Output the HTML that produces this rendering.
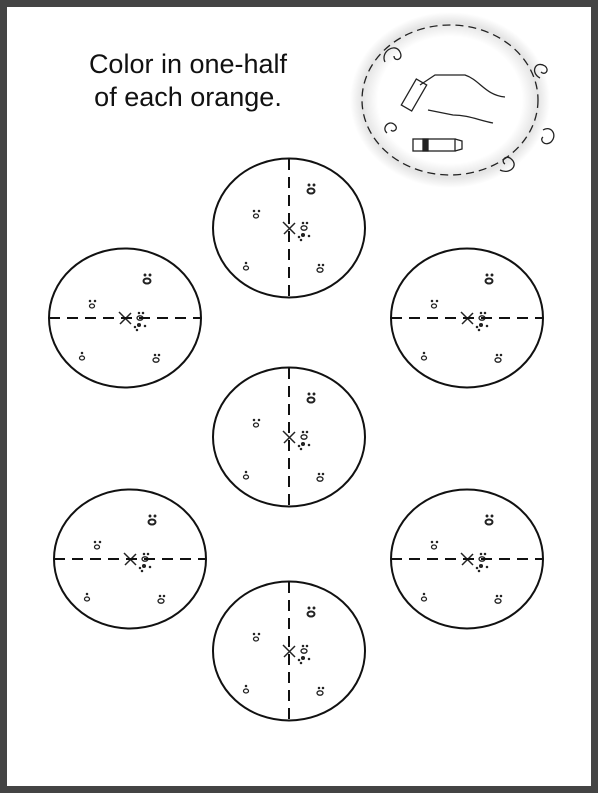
<!DOCTYPE html>
<html><head><style>
html,body{margin:0;padding:0;background:#fff}
.wrap{position:relative;width:600px;height:795px;overflow:hidden}
</style></head><body><div class="wrap">
<svg width="600" height="795" viewBox="0 0 600 795" xmlns="http://www.w3.org/2000/svg">
<defs>
<radialGradient id="glow" cx="50%" cy="50%" r="50%">
<stop offset="72%" stop-color="#fff"/><stop offset="88%" stop-color="#e4e4e4"/><stop offset="100%" stop-color="#fff"/>
</radialGradient>
<g id="dots" fill="none" stroke="#222" stroke-width="1.3">
<ellipse cx="22" cy="-37" rx="3.5" ry="2.5" stroke-width="2"/>
<circle cx="20" cy="-43" r="0.8" fill="#222"/><circle cx="25" cy="-43" r="0.8" fill="#222"/>
<ellipse cx="-33" cy="-12" rx="2.5" ry="2"/>
<circle cx="-35" cy="-17" r="0.6" fill="#222"/><circle cx="-30" cy="-17" r="0.6" fill="#222"/>
<ellipse cx="15" cy="0" rx="3" ry="2.2"/>
<circle cx="14" cy="-5" r="0.6" fill="#222"/><circle cx="18" cy="-5" r="0.6" fill="#222"/>
<circle cx="14" cy="7" r="1.4" fill="#222"/><circle cx="10" cy="9" r="0.6" fill="#222"/><circle cx="20" cy="8" r="0.6" fill="#222"/><circle cx="12" cy="12" r="0.6" fill="#222"/>
<ellipse cx="-43" cy="40" rx="2.5" ry="2"/>
<circle cx="-43" cy="35" r="0.6" fill="#222"/>
<ellipse cx="31" cy="42" rx="3" ry="2.2"/>
<circle cx="30" cy="37" r="0.6" fill="#222"/><circle cx="34" cy="37" r="0.6" fill="#222"/>
<path d="M-6,-6 L6,6 M-5,6 L6,-5" stroke-width="1.5"/>
</g>
<g id="ov">
<ellipse cx="0" cy="0" rx="76" ry="69.5" fill="none" stroke="#111" stroke-width="2"/>
<use href="#dots"/>
</g>
</defs>
<rect x="3.5" y="3.5" width="591" height="786" fill="none" stroke="#444" stroke-width="7"/>
<text x="188" y="73" font-family="Liberation Sans, sans-serif" font-size="27" text-anchor="middle" fill="#111">Color in one-half</text>
<text x="188" y="106" font-family="Liberation Sans, sans-serif" font-size="27" text-anchor="middle" fill="#111">of each orange.</text>
<ellipse cx="450" cy="100" rx="100" ry="88" fill="url(#glow)"/>
<ellipse cx="450" cy="100" rx="88" ry="75" fill="none" stroke="#222" stroke-width="1.3" stroke-dasharray="8,5"/>
<g fill="none" stroke="#222" stroke-width="1.3">
<path d="M385,62 c-5,-10 10,-20 15,-10 c4,8 -6,10 -6,4"/>
<path d="M540,78 c-10,-5 -5,-18 5,-12 c5,4 0,10 -4,6"/>
<path d="M543,130 c8,-5 15,5 8,12 c-6,5 -12,-2 -8,-5"/>
<path d="M387,133 c-6,-5 2,-14 8,-8 c4,4 -2,8 -4,5"/>
<path d="M500,170 c10,5 20,-5 10,-12 c-6,-3 -9,4 -5,6"/>
<path d="M420,85 l15,-10 l30,0 c15,5 20,20 40,22 M428,110 l25,5 c15,0 25,5 40,8"/>
<rect x="408" y="80" width="12" height="30" transform="rotate(30 414 95)"/>
<rect x="413" y="139" width="42" height="12"/>
<path d="M455,139 l7,2 l0,8 l-7,2"/>
<rect x="423" y="139" width="5" height="12" fill="#222"/>
</g>
<g transform="translate(289,228)"><use href="#ov"/><path d="M0,-69 V69" stroke="#111" stroke-width="2" stroke-dasharray="11,7"/></g>
<g transform="translate(125,318)"><use href="#ov"/><path d="M-76,0 H76" stroke="#111" stroke-width="2" stroke-dasharray="11,7"/></g>
<g transform="translate(467,318)"><use href="#ov"/><path d="M-76,0 H76" stroke="#111" stroke-width="2" stroke-dasharray="11,7"/></g>
<g transform="translate(289,437)"><use href="#ov"/><path d="M0,-69 V69" stroke="#111" stroke-width="2" stroke-dasharray="11,7"/></g>
<g transform="translate(130,559)"><use href="#ov"/><path d="M-76,0 H76" stroke="#111" stroke-width="2" stroke-dasharray="11,7"/></g>
<g transform="translate(467,559)"><use href="#ov"/><path d="M-76,0 H76" stroke="#111" stroke-width="2" stroke-dasharray="11,7"/></g>
<g transform="translate(289,651)"><use href="#ov"/><path d="M0,-69 V69" stroke="#111" stroke-width="2" stroke-dasharray="11,7"/></g>
</svg>
</div></body></html>
